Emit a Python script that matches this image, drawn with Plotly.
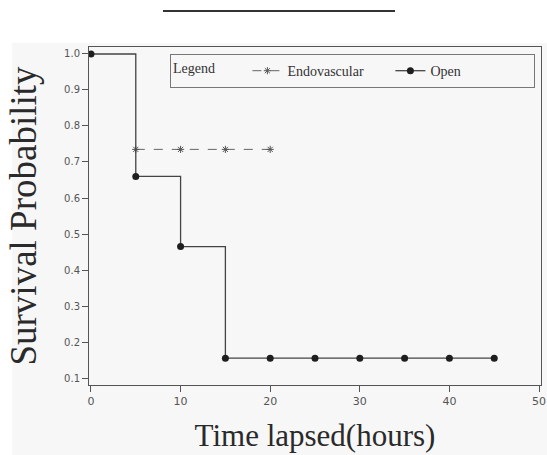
import plotly.graph_objects as go

# Data
open_time = [0, 5, 10, 15, 20, 25, 30, 35, 40, 45]
open_surv = [1.0, 0.66, 0.465, 0.155, 0.155, 0.155, 0.155, 0.155, 0.155, 0.155]
endo_time = [5, 10, 15, 20]
endo_surv = [0.735, 0.735, 0.735, 0.735]
x_ticks = [0, 10, 20, 30, 40, 50]
y_ticks = [0.1, 0.2, 0.3, 0.4, 0.5, 0.6, 0.7, 0.8, 0.9, 1.0]

fig = go.Figure()
fig.add_trace(go.Scatter(
    x=endo_time, y=endo_surv, name="Endovascular", mode="lines+markers",
    line=dict(color="#666666", width=1, dash="dash"),
    marker=dict(symbol="asterisk-open", size=6, color="#555555",
                line=dict(color="#555555", width=1)),
))
fig.add_trace(go.Scatter(
    x=open_time, y=open_surv, name="Open", mode="lines+markers",
    line=dict(color="#444444", width=1.3, shape="hv"),
    marker=dict(symbol="circle", size=7, color="#1e1e1e"),
))

NB = "\u00a0"
fig.update_layout(
    width=547, height=455,
    margin=dict(l=89, r=6, t=47, b=70, autoexpand=False),
    paper_bgcolor="white",
    plot_bgcolor="#f7f7f7",
    showlegend=True,
    legend=dict(
        title=dict(text="Legend" + NB * 7, font=dict(family="Liberation Serif", size=14, color="#333")),
        orientation="h", x=0.179, y=0.979, xanchor="left", yanchor="top",
        bordercolor="#777777", borderwidth=1, bgcolor="#f7f7f7",
        font=dict(family="Liberation Serif", size=14, color="#333"),
        entrywidth=98, itemwidth=30,
    ),
    shapes=[
        dict(type="rect", xref="paper", yref="paper", x0=-0.170, x1=1.02,
             y0=-0.25, y1=1.0118, fillcolor="#f7f7f7", line=dict(width=0), layer="below"),
        dict(type="line", xref="paper", yref="paper", x0=0.1637, x1=0.677,
             y0=1.1065, y1=1.1065, line=dict(color="#333333", width=2)),
    ],
)

fig.update_xaxes(
    range=[-0.22, 50.22], tickvals=x_ticks, ticktext=[str(v) for v in x_ticks],
    showline=True, linecolor="#555555", linewidth=1, mirror=True, automargin=False,
    ticklabeloverflow="allow",
    ticks="outside", ticklen=6, tickcolor="#555555", showgrid=False, zeroline=False,
    tickfont=dict(family="DejaVu Sans", size=11, color="#555555"),
    title=dict(text="Time lapsed(hours)", font=dict(family="Liberation Serif", size=31, color="#2a2a2a"), standoff=17),
)
fig.update_yaxes(
    range=[0.0806, 1.0194], tickvals=y_ticks, ticktext=[f"{v:.1f}" for v in y_ticks],
    showline=True, linecolor="#555555", linewidth=1, mirror=True, automargin=False,
    ticks="outside", ticklen=6, tickcolor="#555555", showgrid=False, zeroline=False,
    tickfont=dict(family="DejaVu Sans", size=10, color="#555555"),
    title=dict(text="Survival Probability", font=dict(family="Liberation Serif", size=37, color="#2a2a2a"), standoff=16),
)

fig.write_html(
    "out.html",
    config={"displayModeBar": False},
    post_script="document.body.style.margin='0';document.body.style.overflow='hidden';",
)
